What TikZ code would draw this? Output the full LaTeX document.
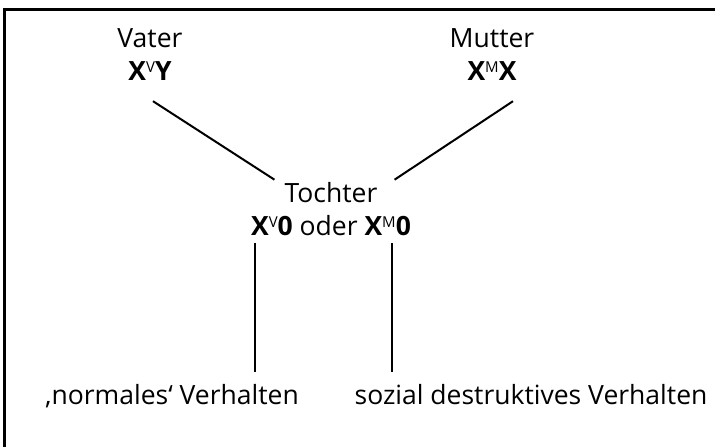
\documentclass[tikz,border=0pt]{standalone}
\usepackage{fontspec}
\setmainfont{Open Sans}
\usepackage{tikz}

\newcommand{\chrom}[1]{\raisebox{8pt}{\fontsize{15}{15}\selectfont\mdseries #1}}

\begin{document}
\begin{tikzpicture}[
  x=1pt, y=-1pt,
  label/.style={inner sep=0pt, anchor=base, font=\fontsize{26.5}{30}\selectfont},
  gene/.style={label, font=\fontsize{26.5}{30}\selectfont\bfseries},
  link/.style={line width=2pt}
]
\useasboundingbox (0,0) rectangle (715,447);

% Frame
\draw[line width=3pt] (4.5,447) -- (4.5,9) -- (715,9);

% Parents
\node[label] (vater) at (150,47) {Vater};
\node[gene] (vaterX) at (150,80) {X\chrom{V}Y};
\node[label] (mutter) at (492,47) {Mutter};
\node[gene] (mutterX) at (492,80) {X\chrom{M}X};

% Daughter
\node[label] (tochter) at (331,202) {Tochter};
\node[label] (tochterX) at (331,235) {\textbf{X\chrom{V}0} oder \textbf{X\chrom{M}0}};

% Behaviour
\node[label] (normal) at (172,404) {‚normales‘ Verhalten};
\node[label] (sozial) at (531,404) {sozial destruktives Verhalten};

% Lines
\draw[link] ([shift={(3,21)}]vaterX.south) -- ([shift={(-10,-2)}]tochter.north west);
\draw[link] ([shift={(21,21)}]mutterX.south) -- ([shift={(17,-2)}]tochter.north east);
\coordinate (vleft) at ([shift={(4,8)}]tochterX.south west);
\coordinate (vright) at ([shift={(-19,8)}]tochterX.south east);
\draw[link, shorten >=12pt] (vleft) -- (vleft |- normal.north);
\draw[link, shorten >=12pt] (vright) -- (vright |- sozial.north);

\end{tikzpicture}
\end{document}
